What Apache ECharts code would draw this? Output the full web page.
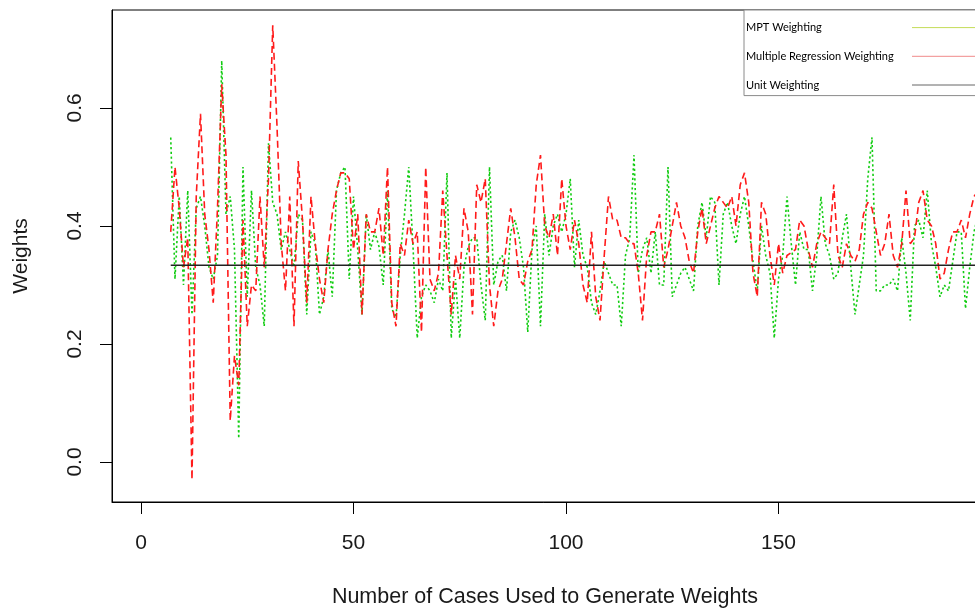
<!DOCTYPE html>
<html>
<head>
<meta charset="utf-8">
<script src="https://cdn.jsdelivr.net/npm/echarts@6/dist/echarts.min.js"></script>
<style>
  html, body { margin: 0; padding: 0; background: #ffffff; }
  #chart { width: 975px; height: 609px; }
</style>
</head>
<body>
<div id="chart"></div>
<script>
// ---- data ----
const firstCase = 7;
const mptWeights = [
  0.55, 0.31, 0.45, 0.30, 0.46, 0.25, 0.43, 0.45, 0.40, 0.33, 0.31, 0.35, 0.68, 0.42, 0.45, 0.36, 0.04, 0.50, 0.28, 0.46, 0.33, 0.30, 0.23, 0.54,
  0.44, 0.42, 0.36, 0.39, 0.36, 0.33, 0.42, 0.41, 0.25, 0.39, 0.37, 0.25, 0.28, 0.36, 0.28, 0.46, 0.49, 0.50, 0.31, 0.45, 0.36, 0.25, 0.42, 0.36,
  0.39, 0.365, 0.30, 0.46, 0.26, 0.245, 0.35, 0.42, 0.50, 0.365, 0.21, 0.28, 0.30, 0.29, 0.27, 0.31, 0.29, 0.49, 0.21, 0.31, 0.21, 0.33, 0.365, 0.38, 0.38,
  0.30, 0.24, 0.50, 0.30, 0.34, 0.35, 0.29, 0.39, 0.41, 0.38, 0.33, 0.22, 0.36, 0.40, 0.23, 0.42, 0.35, 0.40, 0.42, 0.39, 0.42, 0.48, 0.33, 0.41, 0.35,
  0.33, 0.27, 0.25, 0.29, 0.34, 0.32, 0.30, 0.30, 0.23, 0.35, 0.38, 0.52, 0.32, 0.36, 0.38, 0.32, 0.39, 0.30, 0.30, 0.50, 0.28, 0.30, 0.32, 0.33, 0.31,
  0.29, 0.40, 0.44, 0.38, 0.45, 0.44, 0.30, 0.42, 0.44, 0.40, 0.37, 0.42, 0.45, 0.40, 0.34, 0.29, 0.40, 0.35, 0.32, 0.21, 0.31, 0.35, 0.45, 0.37,
  0.30, 0.39, 0.36, 0.36, 0.29, 0.35, 0.45, 0.37, 0.35, 0.31, 0.32, 0.38, 0.42, 0.33, 0.25, 0.30, 0.35, 0.48, 0.55, 0.29,
  0.29, 0.30, 0.30, 0.31, 0.29, 0.38, 0.32, 0.24, 0.40, 0.41, 0.38, 0.46, 0.37, 0.33, 0.28, 0.30, 0.29, 0.34, 0.39, 0.39, 0.26, 0.33, 0.39, 0.42
];
const regressionWeights = [
  0.39, 0.50, 0.43, 0.33, 0.38, -0.03, 0.45, 0.59, 0.42, 0.36, 0.27, 0.43, 0.64, 0.52, 0.07, 0.18, 0.13, 0.41, 0.23, 0.30, 0.29, 0.45, 0.33, 0.48,
  0.74, 0.57, 0.37, 0.29, 0.45, 0.23, 0.51, 0.41, 0.27, 0.45, 0.37, 0.31, 0.27, 0.36, 0.42, 0.46, 0.49, 0.49, 0.48, 0.36, 0.42, 0.25, 0.42, 0.39,
  0.39, 0.43, 0.35, 0.50, 0.27, 0.23, 0.37, 0.35, 0.41, 0.37, 0.39, 0.22, 0.50, 0.31, 0.29, 0.32, 0.46, 0.35, 0.25, 0.35, 0.31, 0.43, 0.39, 0.25, 0.47,
  0.44, 0.48, 0.30, 0.23, 0.29, 0.31, 0.37, 0.43, 0.38, 0.31, 0.30, 0.34, 0.36, 0.47, 0.52, 0.40, 0.38, 0.42, 0.35, 0.48, 0.40, 0.36, 0.41, 0.37, 0.30,
  0.27, 0.39, 0.28, 0.24, 0.35, 0.45, 0.41, 0.41, 0.38, 0.38, 0.37, 0.37, 0.32, 0.24, 0.35, 0.39, 0.39, 0.42, 0.33, 0.36, 0.40, 0.44, 0.40, 0.38, 0.34,
  0.32, 0.39, 0.43, 0.37, 0.40, 0.43, 0.45, 0.44, 0.43, 0.45, 0.40, 0.47, 0.49, 0.44, 0.32, 0.28, 0.44, 0.42, 0.35, 0.30, 0.37, 0.32, 0.35, 0.355,
  0.36, 0.41, 0.40, 0.36, 0.33, 0.37, 0.39, 0.38, 0.37, 0.47, 0.35, 0.33, 0.37, 0.35, 0.34, 0.36, 0.42, 0.44, 0.43, 0.39,
  0.35, 0.37, 0.42, 0.35, 0.33, 0.37, 0.46, 0.37, 0.38, 0.44, 0.46, 0.41, 0.40, 0.37, 0.31, 0.32, 0.36, 0.39, 0.39, 0.41, 0.38, 0.42, 0.45, 0.46
];
const unitWeight = 1 / 3;
const unitRange = [7, 197];
const seriesNames = ['MPT Weighting', 'Multiple Regression Weighting', 'Unit Weighting'];
const xTicks = [0, 50, 100, 150];
const yTicks = [0, 0.2, 0.4, 0.6];
const yTickLabels = ['0.0', '0.2', '0.4', '0.6'];
const xTitle = 'Number of Cases Used to Generate Weights';
const yTitle = 'Weights';

// ---- build ----
const mptData = mptWeights.map((v, i) => [firstCase + i, v]);
const regData = regressionWeights.map((v, i) => [firstCase + i, v]);
const unitData = unitRange.map(x => [x, unitWeight]);

const axisFont = { fontFamily: 'Liberation Sans, Arial, sans-serif', fontSize: 21, color: '#1a1a1a' };

const chart = echarts.init(document.getElementById('chart'), null, { renderer: 'canvas' });
chart.setOption({
  animation: false,
  backgroundColor: '#ffffff',
  grid: {
    left: 112, top: 10, width: 866, height: 492,
    outerBoundsMode: 'none',
    containLabel: false,
    show: true, borderColor: '#000', borderWidth: 1, backgroundColor: 'transparent'
  },
  xAxis: {
    type: 'value',
    min: -6.82, max: 196.94,
    axisLine: { show: true, onZero: false, lineStyle: { color: '#000', width: 1 } },
    axisTick: { show: true, customValues: xTicks, length: 12, lineStyle: { color: '#000', width: 1 } },
    axisLabel: { customValues: xTicks, margin: 31, ...axisFont },
    splitLine: { show: false },
    name: xTitle,
    nameLocation: 'middle',
    nameGap: 84,
    nameTextStyle: { ...axisFont, fontSize: 21.5 }
  },
  yAxis: {
    type: 'value',
    min: -0.0678, max: 0.766,
    axisLine: { show: true, onZero: false, lineStyle: { color: '#000', width: 1 } },
    axisTick: { show: true, customValues: yTicks, length: 12, lineStyle: { color: '#000', width: 1 } },
    axisLabel: {
      customValues: yTicks, rotate: 90, margin: 26,
      formatter: v => yTickLabels[yTicks.findIndex(t => Math.abs(t - v) < 1e-9)] ?? v.toFixed(1),
      ...axisFont
    },
    splitLine: { show: false },
    name: yTitle,
    nameLocation: 'middle',
    nameRotate: 90,
    nameGap: 80,
    nameTextStyle: { ...axisFont }
  },
  legend: {
    orient: 'vertical',
    left: 744, top: 10,
    align: 'right',
    padding: [12, 12, 5, 2],
    itemGap: 17.5,
    itemWidth: 70, itemHeight: 14,
    backgroundColor: '#ffffff',
    borderColor: '#8a8a8a', borderWidth: 1,
    formatter: name => '{t|' + name + '}',
    textStyle: {
      fontFamily: 'Lato, Open Sans, sans-serif', fontSize: 11, color: '#000',
      rich: { t: { width: 161, align: 'left', fontFamily: 'Lato, Open Sans, sans-serif', fontSize: 11, color: '#000' } }
    },
    itemStyle: { opacity: 0 },
    lineStyle: { type: 'solid', width: 1 },
    data: [
      { name: seriesNames[0], lineStyle: { color: '#c4dc58', type: 'solid', width: 1 } },
      { name: seriesNames[1], lineStyle: { color: '#f08a8a', type: 'solid', width: 1 } },
      { name: seriesNames[2], lineStyle: { color: '#666666', type: 'solid', width: 1 } }
    ]
  },
  series: [
    {
      name: seriesNames[0], type: 'line', data: mptData,
      showSymbol: false, symbol: 'none',
      lineStyle: { color: '#11cc11', width: 1.6, type: [2.2, 2.6] },
      itemStyle: { color: '#11cc11' },
      clip: true, z: 2
    },
    {
      name: seriesNames[1], type: 'line', data: regData,
      showSymbol: false, symbol: 'none',
      lineStyle: { color: '#ff1a1a', width: 1.6, type: [7, 4] },
      itemStyle: { color: '#ff1a1a' },
      clip: true, z: 3
    },
    {
      name: seriesNames[2], type: 'line', data: unitData,
      showSymbol: false, symbol: 'none',
      lineStyle: { color: '#222', width: 1.5, type: 'solid' },
      itemStyle: { color: '#222' },
      clip: true, z: 4
    }
  ]
});
</script>
</body>
</html>
